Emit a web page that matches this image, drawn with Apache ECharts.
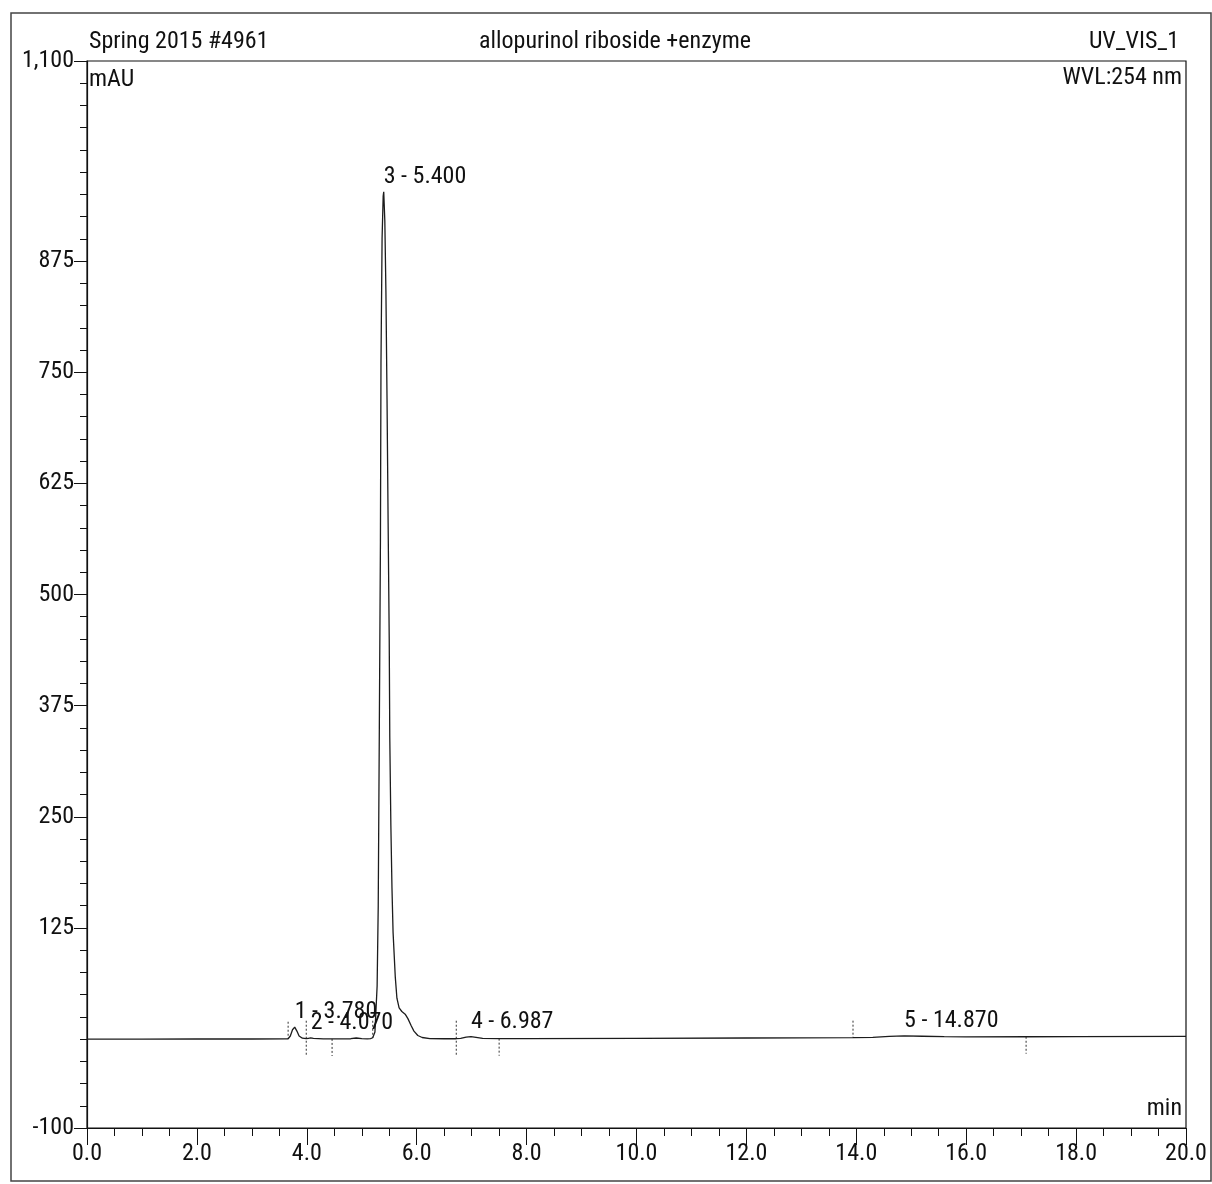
<!DOCTYPE html>
<html>
<head>
<meta charset="utf-8">
<script src="https://cdn.jsdelivr.net/npm/echarts@6/dist/echarts.min.js"></script>
<style>
html, body { margin: 0; padding: 0; background: #fff; }
#chart { width: 1212px; height: 1184px; }
</style>
</head>
<body>
<div id="chart"></div>
<script>
// Chromatogram: allopurinol riboside + enzyme, UV detection at 254 nm

// Detector trace: retention time (min) and absorbance (mAU)
const traceTime = [
  0.00, 1.00, 2.00, 3.00, 3.60, 3.66, 3.70, 3.74, 3.78, 3.82, 3.86, 3.92, 3.99,
  4.03, 4.07, 4.12, 4.30, 4.46, 4.80, 4.90, 5.00, 5.10, 5.16, 5.20, 5.24, 5.28,
  5.30, 5.32, 5.34, 5.35, 5.37, 5.39, 5.40, 5.42, 5.44, 5.46, 5.48, 5.50, 5.51,
  5.53, 5.55, 5.57, 5.61, 5.64, 5.68, 5.73, 5.79, 5.84, 5.90, 5.95, 6.02, 6.10,
  6.24, 6.50, 6.72, 6.80, 6.90, 6.987, 7.08, 7.20, 7.50, 8.00, 10.00, 12.00,
  13.94, 14.30, 14.60, 14.87, 15.20, 15.60, 16.00, 17.09, 18.00, 20.00
];
const traceMAU = [
  0.0, 0.0, 0.1, 0.1, 0.2, 0.4, 3.5, 10.5, 13.5, 9.0, 3.5, 1.0, 0.4,
  0.9, 1.3, 0.7, 0.3, 0.2, 0.4, 1.2, 0.5, 0.3, 0.6, 1.5, 8, 60,
  150, 350, 560, 760, 900, 948, 953, 920, 840, 720, 580, 450, 340,
  240, 170, 120, 70, 46, 35, 31, 28, 23, 15, 9, 4, 1.8,
  0.6, 0.4, 0.4, 0.9, 2.2, 2.8, 2.0, 0.9, 0.5, 0.5, 0.8, 1.2,
  1.6, 2.0, 3.0, 3.6, 3.2, 2.7, 2.4, 2.6, 2.8, 3.0
];

// Integrated peaks: number and retention time (min)
const peakNumbers = [1, 2, 3, 4, 5];
const peakTimes = [3.780, 4.070, 5.400, 6.987, 14.870];

// Peak start/end delimiters (min) and which side of the baseline they mark
const delimiterTimes = [3.66, 3.99, 4.46, 5.20, 6.72, 7.50, 13.94, 17.09];
const delimiterKinds = ['start', 'both', 'end', 'start', 'both', 'end', 'start', 'end'];

// Axis tick labels
const yLabelValues = [-100, 125, 250, 375, 500, 625, 750, 875, 1100];
const xLabelValues = [0, 2, 4, 6, 8, 10, 12, 14, 16, 18, 20];

// Use the narrowest installed sans face available, sized so the header keeps its width
function pickFont() {
  const ctx = document.createElement('canvas').getContext('2d');
  const sample = 'Spring 2015 #4961';
  const candidates = ['Liberation Sans Narrow', 'Arial Narrow', 'Roboto Condensed',
    'Noto Sans Condensed', 'Open Sans Condensed', 'DejaVu Sans Condensed'];
  const width = f => { ctx.font = '24px ' + f; return ctx.measureText(sample).width; };
  for (const name of candidates) {
    const found = ['monospace', 'serif'].some(base => width('"' + name + '", ' + base) !== width(base));
    if (found) {
      const w = width('"' + name + '", sans-serif');
      const size = Math.max(19, Math.min(24, Math.round(24 * 178 / w)));
      return { family: '"' + name + '", sans-serif', size: size };
    }
  }
  return { family: 'sans-serif', size: 20 };
}
const F = pickFont();
const FONT = F.family;
const FS = F.size;
const CSSFONT = FS + 'px ' + FONT;

function traceAt(t) {
  for (let i = 1; i < traceTime.length; i++) {
    if (t <= traceTime[i]) {
      const t0 = traceTime[i - 1], t1 = traceTime[i];
      const f = (t - t0) / (t1 - t0);
      return traceMAU[i - 1] + f * (traceMAU[i] - traceMAU[i - 1]);
    }
  }
  return traceMAU[traceMAU.length - 1];
}

const traceData = traceTime.map((t, i) => [t, traceMAU[i]]);
const peakData = peakTimes.map((t, i) => ({
  value: [t, traceAt(t)],
  name: peakNumbers[i] + ' - ' + t.toFixed(3)
}));
const delimiterData = delimiterTimes.map((t, i) => [t, traceAt(t), i]);

const INK = '#111';

const chart = echarts.init(document.getElementById('chart'), null, { renderer: 'canvas' });

chart.setOption({
  animation: false,
  backgroundColor: '#fff',
  grid: {
    left: 87, right: 26, top: 61, bottom: 56,
    show: true, borderColor: INK, borderWidth: 1.2, backgroundColor: 'transparent'
  },
  xAxis: [
    {
      type: 'value', min: 0, max: 20, interval: 0.5, position: 'bottom',
      axisLine: { show: true, onZero: false, lineStyle: { color: INK, width: 1.2 } },
      axisTick: { show: true, length: 8, lineStyle: { color: INK, width: 1 } },
      axisLabel: { show: false },
      splitLine: { show: false }
    },
    {
      type: 'value', min: 0, max: 20, interval: 2, position: 'bottom',
      axisLine: { show: false, onZero: false },
      axisTick: { show: true, length: 17, lineStyle: { color: INK, width: 1 } },
      axisLabel: {
        show: true, customValues: xLabelValues, margin: 14,
        fontFamily: FONT, fontSize: FS, color: INK,
        formatter: v => v.toFixed(1)
      },
      splitLine: { show: false }
    }
  ],
  yAxis: [
    {
      type: 'value', min: -100, max: 1100, interval: 25, position: 'left',
      axisLine: { show: true, onZero: false, lineStyle: { color: INK, width: 1.2 } },
      axisTick: { show: true, length: 7, lineStyle: { color: INK, width: 1 } },
      axisLabel: { show: false },
      splitLine: { show: false }
    },
    {
      type: 'value', min: -100, max: 1100, position: 'left',
      axisLine: { show: false, onZero: false },
      axisTick: { show: true, length: 13, customValues: yLabelValues, lineStyle: { color: INK, width: 1 } },
      axisLabel: {
        show: true, customValues: yLabelValues, margin: 13,
        fontFamily: FONT, fontSize: FS, color: INK,
        formatter: v => v.toLocaleString('en-US')
      },
      splitLine: { show: false }
    }
  ],
  series: [
    {
      name: 'UV_VIS_1', type: 'line', xAxisIndex: 0, yAxisIndex: 0,
      data: traceData, showSymbol: false, symbol: 'none',
      lineStyle: { color: '#1c1c1c', width: 1.3 },
      emphasis: { disabled: true },
      z: 3
    },
    {
      name: 'delimiters', type: 'custom', xAxisIndex: 0, yAxisIndex: 0,
      data: delimiterData,
      renderItem: (params, api) => {
        const p = api.coord([api.value(0), api.value(1)]);
        const kind = delimiterKinds[api.value(2)];
        const up = kind === 'end' ? 0 : (kind === 'both' ? 18 : 17);
        const down = kind === 'start' ? 0 : 17;
        return {
          type: 'line',
          shape: { x1: p[0], y1: p[1] - up, x2: p[0], y2: p[1] + down },
          style: { stroke: '#333', lineWidth: 1, lineDash: [2, 2] }
        };
      },
      z: 2
    },
    {
      name: 'peaks', type: 'scatter', xAxisIndex: 0, yAxisIndex: 0,
      data: peakData, symbolSize: 0,
      itemStyle: { color: INK, opacity: 1 },
      emphasis: { disabled: true },
      label: {
        show: true, position: [0, 0], align: 'left', verticalAlign: 'bottom',
        offset: [0, -3],
        formatter: p => p.name,
        fontFamily: FONT, fontSize: FS, color: INK, opacity: 1
      },
      z: 4
    }
  ],
  graphic: [
    {
      type: 'rect', silent: true,
      shape: { x: 11, y: 13, width: 1200, height: 1168 },
      style: { fill: 'none', stroke: '#444', lineWidth: 1.5 }
    },
    {
      type: 'text', x: 89, y: 42,
      style: { text: 'Spring 2015 #4961', font: CSSFONT, fill: INK, align: 'left', verticalAlign: 'middle' }
    },
    {
      type: 'text', x: 615, y: 42,
      style: { text: 'allopurinol riboside +enzyme', font: CSSFONT, fill: INK, align: 'center', verticalAlign: 'middle' }
    },
    {
      type: 'text', x: 1179, y: 42,
      style: { text: 'UV_VIS_1', font: CSSFONT, fill: INK, align: 'right', verticalAlign: 'middle' }
    },
    {
      type: 'text', x: 89, y: 80,
      style: { text: 'mAU', font: CSSFONT, fill: INK, align: 'left', verticalAlign: 'middle' }
    },
    {
      type: 'text', x: 1182, y: 78,
      style: { text: 'WVL:254 nm', font: CSSFONT, fill: INK, align: 'right', verticalAlign: 'middle' }
    },
    {
      type: 'text', x: 1182, y: 1109,
      style: { text: 'min', font: CSSFONT, fill: INK, align: 'right', verticalAlign: 'middle' }
    }
  ]
});
</script>
</body>
</html>
